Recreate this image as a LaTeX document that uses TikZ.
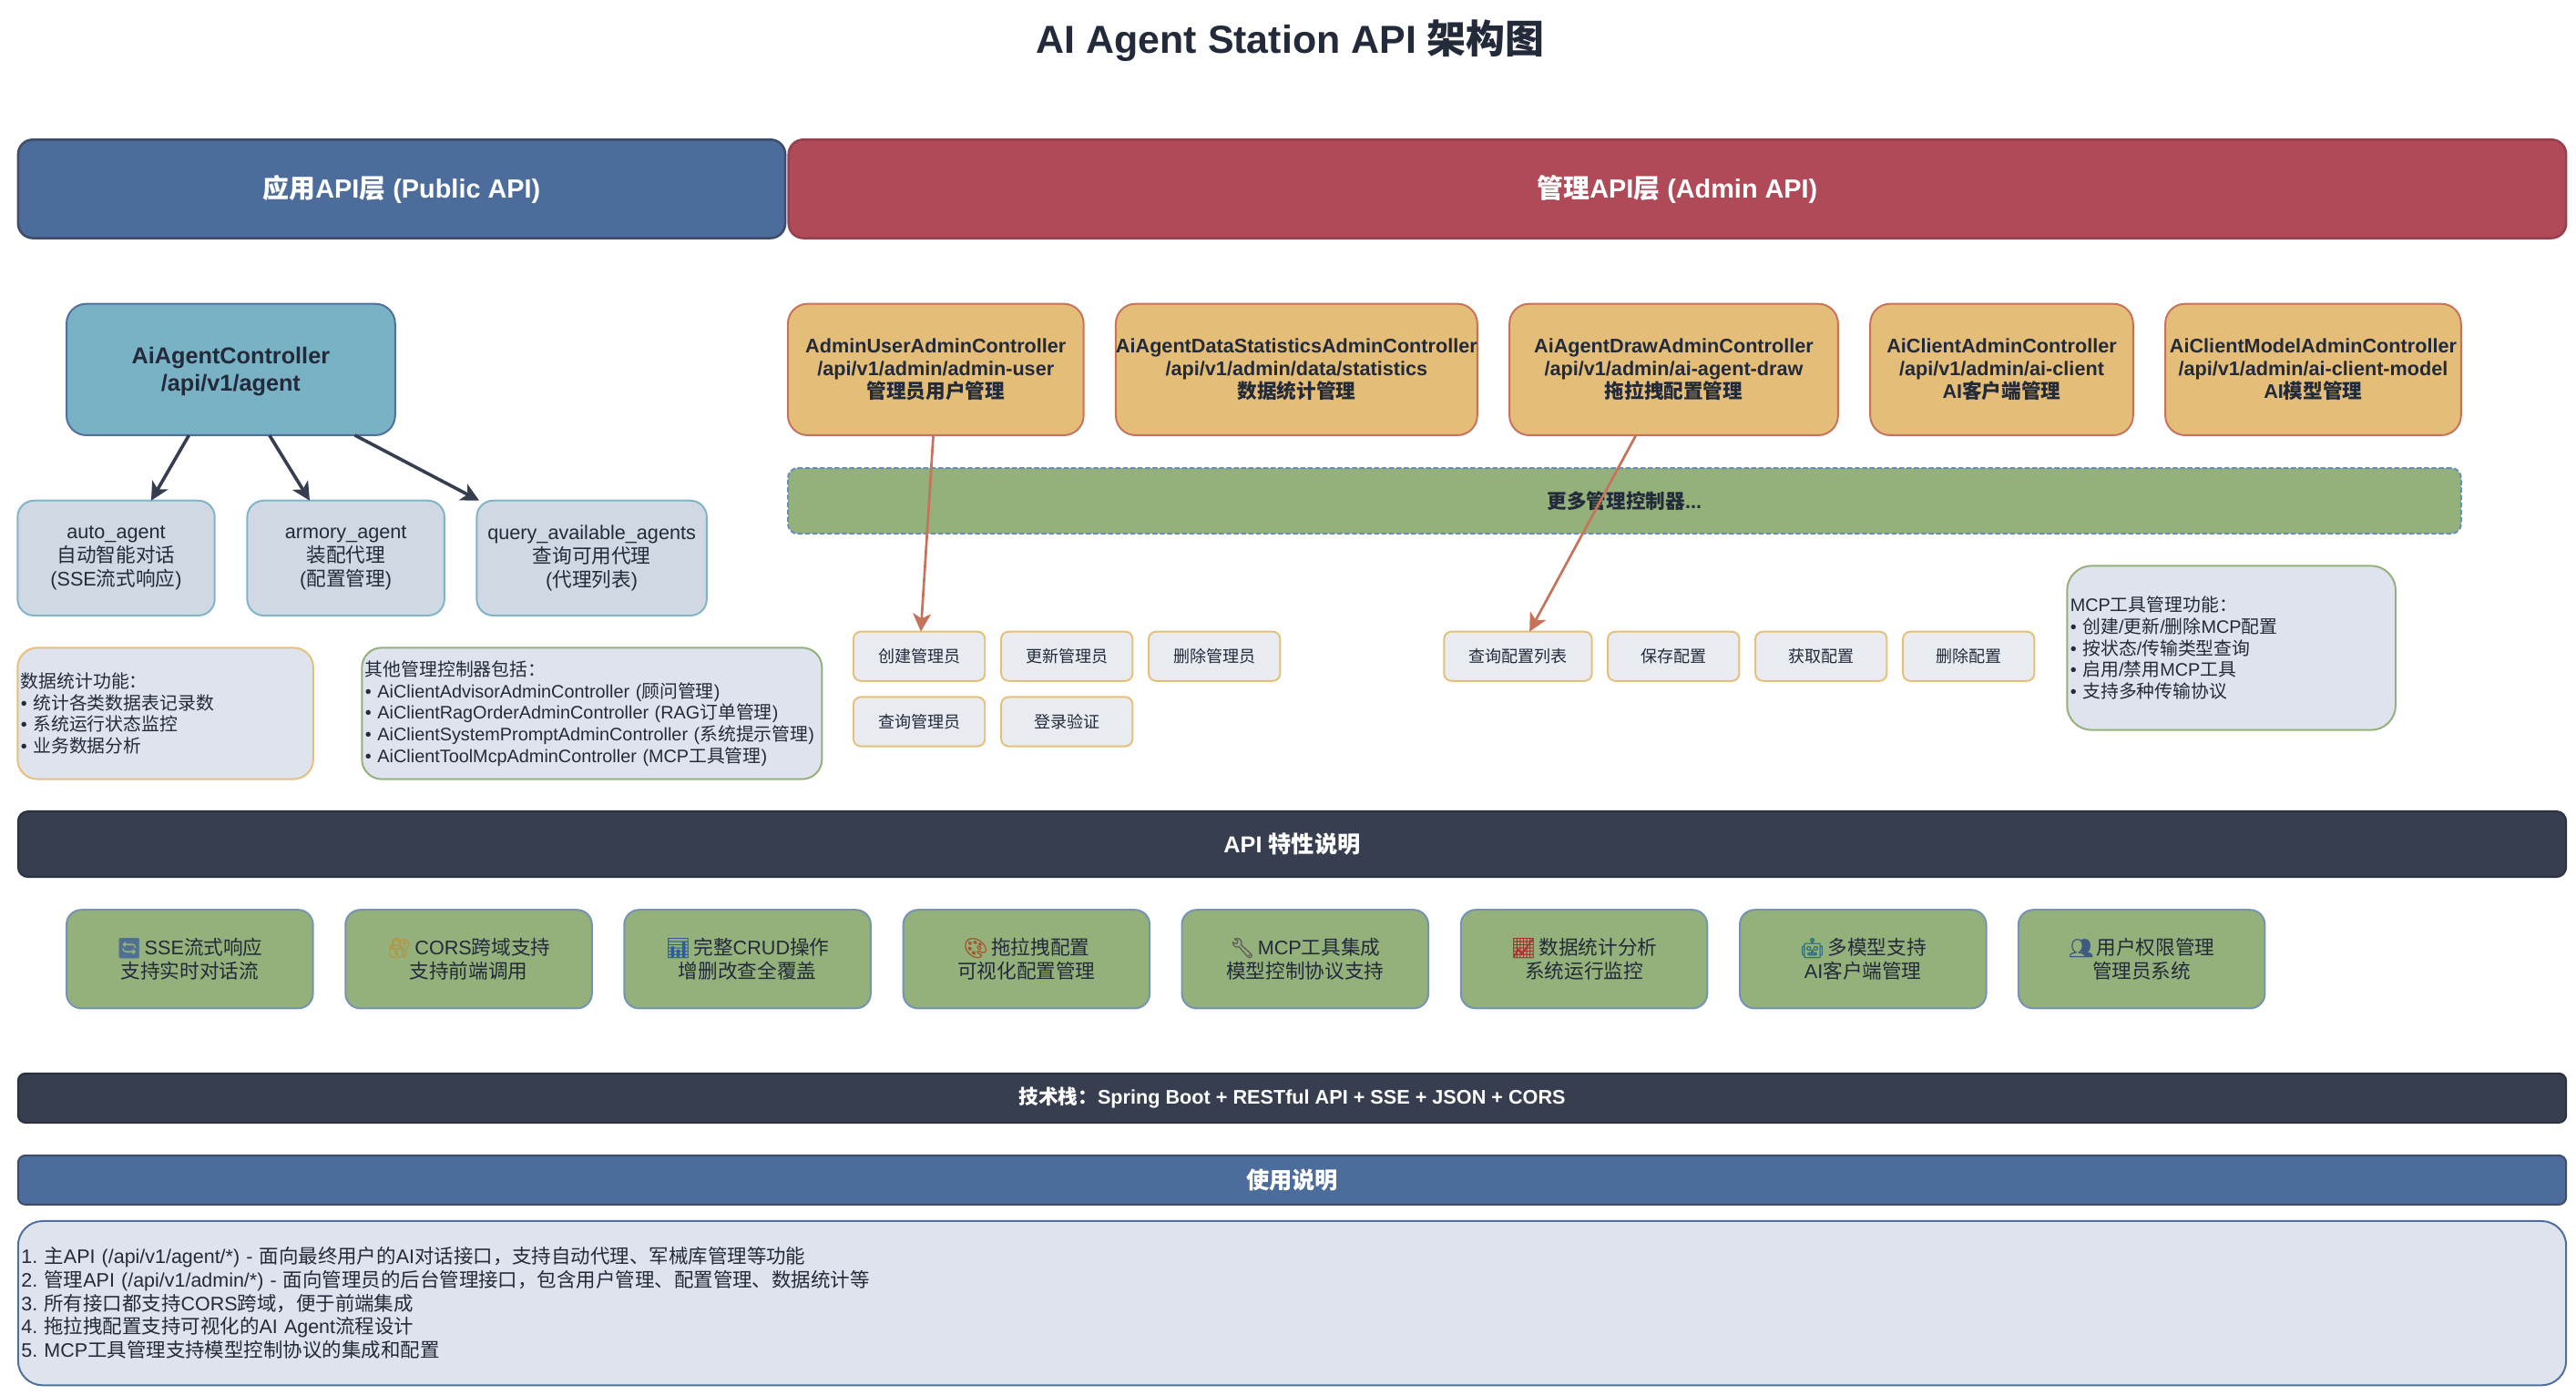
\documentclass[tikz,border=0pt]{standalone}
\usepackage{fontspec}
\usetikzlibrary{arrows.meta}
\setmainfont{Liberation Sans}
\newfontfamily\cjkf{Noto Sans CJK SC}
\newfontfamily\emojif[FakeBold=1.2]{Noto Emoji}
\newcount\cjkcnt
\cjkcnt="3000 \loop \XeTeXcharclass\cjkcnt=1 \advance\cjkcnt by 1 \ifnum\cjkcnt<"3040 \repeat
\cjkcnt="4E00 \loop \XeTeXcharclass\cjkcnt=1 \advance\cjkcnt by 1 \ifnum\cjkcnt<"A000 \repeat
\cjkcnt="FF00 \loop \XeTeXcharclass\cjkcnt=1 \advance\cjkcnt by 1 \ifnum\cjkcnt<"FF60 \repeat
\XeTeXinterchartokenstate=1
\XeTeXinterchartoks 0 1 = {\cjkf}
\XeTeXinterchartoks 4095 1 = {\cjkf}
\XeTeXinterchartoks 1 0 = {\rmfamily}
\XeTeXinterchartoks 1 4095 = {\rmfamily}
\frenchspacing
\definecolor{txtdark}{HTML}{232A3A}
\definecolor{pubfill}{HTML}{4C6C9B}
\definecolor{publine}{HTML}{3F4C69}
\definecolor{admfill}{HTML}{B04A59}
\definecolor{admline}{HTML}{96404E}
\definecolor{ctlfill}{HTML}{79B1C5}
\definecolor{ctlline}{HTML}{4F709F}
\definecolor{fnfill}{HTML}{D0D8E4}
\definecolor{fnline}{HTML}{7FB5C8}
\definecolor{yelfill}{HTML}{E4BD78}
\definecolor{redline}{HTML}{C7735C}
\definecolor{grnfill}{HTML}{94B07B}
\definecolor{dashline}{HTML}{6A8BBF}
\definecolor{actfill}{HTML}{E8ECF1}
\definecolor{yelline}{HTML}{E6C079}
\definecolor{infofill}{HTML}{DFE3ED}
\definecolor{barfill}{HTML}{373E50}
\definecolor{barline}{HTML}{2B3140}
\definecolor{featline}{HTML}{7593B5}
\tikzset{
  shared/.style={draw, rectangle, outer sep=0pt, inner sep=0pt, line width=1.1pt, align=center, text=txtdark},
  header/.style={shared, rounded corners=9pt, text=white, line width=1.4pt, text height=14pt, text depth=3pt, font=\frenchspacing\bfseries\fontsize{16}{19}\selectfont},
  pubhead/.style={header, fill=pubfill, draw=publine},
  admhead/.style={header, fill=admfill, draw=admline},
  agentctl/.style={shared, rounded corners=12pt, fill=ctlfill, draw=ctlline, font=\bfseries\fontsize{14}{17}\selectfont},
  fnbox/.style={shared, rounded corners=10pt, fill=fnfill, draw=fnline, font=\fontsize{12}{14.3}\selectfont},
  admctl/.style={shared, rounded corners=12pt, fill=yelfill, draw=redline, font=\bfseries\fontsize{12}{14}\selectfont},
  morebox/.style={shared, rounded corners=6pt, fill=grnfill, draw=dashline, dashed, dash pattern=on 3pt off 1.5pt, font=\bfseries\fontsize{12}{14}\selectfont},
  actbox/.style={shared, rounded corners=4.5pt, fill=actfill, draw=yelline, font=\fontsize{10}{12}\selectfont},
  infobox/.style={shared, fill=infofill, align=left, inner xsep=2pt, font=\frenchspacing\fontsize{11}{13.2}\selectfont},
  darkbar/.style={shared, fill=barfill, draw=barline, text=white, rounded corners=6pt, font=\bfseries\fontsize{14}{17}\selectfont},
  featbox/.style={shared, rounded corners=9pt, fill=grnfill, draw=featline, font=\fontsize{12}{14.5}\selectfont},
  linkdark/.style={draw=barfill, line width=2pt, -{Stealth[length=11pt,width=11pt,inset=3pt]}},
  linkred/.style={draw=redline, line width=1.5pt, -{Stealth[length=11pt,width=11pt,inset=3pt]}},
  titletext/.style={inner sep=0pt, text=txtdark, font=\bfseries\fontsize{23.8}{28}\selectfont}
}
\newcommand{\Bx}[7]{\node[#1, minimum width=#5pt, minimum height=#6pt] (#2) at ({#3+#5/2},{#4+#6/2}) {#7};}
\newcommand{\Emo}[2]{{\color[HTML]{#1}\emojif #2}\hspace{1.8pt}}
\begin{document}
\begin{tikzpicture}[x=1pt,y=-1pt]
\useasboundingbox (0,0) rectangle (1568,849.4);
\node[titletext] (title) at (785.5,25) {AI Agent Station API 架构图};
\Bx{pubhead}{pub}{11}{85}{467}{60}{应用API层 (Public API)}
\Bx{admhead}{adm}{480}{85}{1082}{60}{管理API层 (Admin API)}
\Bx{agentctl}{ctrl}{40.5}{185}{200}{80}{\rule{0pt}{12.5pt}AiAgentController\\/api/v1/agent}
\Bx{fnbox}{auto}{10.7}{304.8}{120}{70}{auto\_agent\\自动智能对话\\(SSE流式响应)}
\Bx{fnbox}{armory}{150.5}{304.8}{120}{70}{armory\_agent\\装配代理\\(配置管理)}
\Bx{fnbox}{query}{290.2}{304.8}{140}{70}{query\_available\_agents\\查询可用代理\\(代理列表)}
\Bx{admctl}{cuser}{479.6}{185}{180}{80}{AdminUserAdminController\\/api/v1/admin/admin-user\\管理员用户管理}
\Bx{admctl}{cstat}{679.2}{185}{220}{80}{AiAgentDataStatisticsAdminController\\/api/v1/admin/data/statistics\\数据统计管理}
\Bx{admctl}{cdraw}{918.8}{185}{200}{80}{AiAgentDrawAdminController\\/api/v1/admin/ai-agent-draw\\拖拉拽配置管理}
\Bx{admctl}{cclient}{1138.4}{185}{160}{80}{AiClientAdminController\\/api/v1/admin/ai-client\\AI客户端管理}
\Bx{admctl}{cmodel}{1318}{185}{180}{80}{AiClientModelAdminController\\/api/v1/admin/ai-client-model\\AI模型管理}
\Bx{morebox}{more}{479.6}{285}{1018.4}{40}{更多管理控制器...}
\Bx{actbox}{ucreate}{519.5}{384.6}{80}{30}{创建管理员}
\Bx{actbox}{uupdate}{609.4}{384.6}{80}{30}{更新管理员}
\Bx{actbox}{udelete}{699.2}{384.6}{80}{30}{删除管理员}
\Bx{actbox}{uquery}{519.5}{424.4}{80}{30}{查询管理员}
\Bx{actbox}{ulogin}{609.4}{424.4}{80}{30}{登录验证}
\Bx{actbox}{dlist}{879}{384.6}{90}{30}{查询配置列表}
\Bx{actbox}{dsave}{978.7}{384.6}{80}{30}{保存配置}
\Bx{actbox}{dget}{1068.5}{384.6}{80}{30}{获取配置}
\Bx{actbox}{ddel}{1158.3}{384.6}{80}{30}{删除配置}
\Bx{infobox, rounded corners=15pt, draw=grnfill, text width=196pt}{mcp}{1258.2}{344.5}{200}{100}{MCP工具管理功能：\\• 创建/更新/删除MCP配置\\• 按状态/传输类型查询\\• 启用/禁用MCP工具\\• 支持多种传输协议}
\Bx{infobox, rounded corners=12pt, draw=yelline, text width=176pt}{stat}{10.7}{394.4}{180}{80}{数据统计功能：\\• 统计各类数据表记录数\\• 系统运行状态监控\\• 业务数据分析}
\Bx{infobox, rounded corners=12pt, draw=grnfill, text width=276pt}{other}{220.3}{394.4}{280}{80}{其他管理控制器包括：\\• AiClientAdvisorAdminController (顾问管理)\\• AiClientRagOrderAdminController (RAG订单管理)\\• AiClientSystemPromptAdminController (系统提示管理)\\• AiClientToolMcpAdminController (MCP工具管理)}
\Bx{darkbar}{feat}{11}{494}{1551}{40}{API 特性说明}
\Bx{featbox}{f1}{40.5}{554}{150}{60}{\Emo{4F6F94}{🔄}SSE流式响应\\支持实时对话流}
\Bx{featbox}{f2}{210.3}{554}{150}{60}{\Emo{B8953F}{🔐}CORS跨域支持\\支持前端调用}
\Bx{featbox}{f3}{380}{554}{150}{60}{\Emo{2A5DA8}{📊}完整CRUD操作\\增删改查全覆盖}
\Bx{featbox}{f4}{549.8}{554}{150}{60}{\Emo{A8552D}{🎨}拖拉拽配置\\可视化配置管理}
\Bx{featbox}{f5}{719.4}{554}{150}{60}{\Emo{5A5A5A}{🔧}MCP工具集成\\模型控制协议支持}
\Bx{featbox}{f6}{889.2}{554}{150}{60}{\Emo{B02A30}{📈}数据统计分析\\系统运行监控}
\Bx{featbox}{f7}{1059}{554}{150}{60}{\Emo{2D6F7D}{🤖}多模型支持\\AI客户端管理}
\Bx{featbox}{f8}{1228.6}{554}{150}{60}{\Emo{3D5A80}{👥}用户权限管理\\管理员系统}
\Bx{darkbar, rounded corners=4.5pt, font=\bfseries\fontsize{12}{14}\selectfont}{tech}{11}{653.6}{1551}{30}{技术栈：Spring Boot + RESTful API + SSE + JSON + CORS}
\Bx{darkbar, rounded corners=4.5pt, fill=pubfill, draw=publine}{usebar}{11}{703.5}{1551}{30}{使用说明}
\Bx{infobox, rounded corners=15pt, draw=ctlline, text width=1547pt, font=\frenchspacing\fontsize{11.9}{14.25}\selectfont}{usage}{11}{743.5}{1551}{100}{1. 主API (/api/v1/agent/*) - 面向最终用户的AI对话接口，支持自动代理、军械库管理等功能\\2. 管理API (/api/v1/admin/*) - 面向管理员的后台管理接口，包含用户管理、配置管理、数据统计等\\3. 所有接口都支持CORS跨域，便于前端集成\\4. 拖拉拽配置支持可视化的AI Agent流程设计\\5. MCP工具管理支持模型控制协议的集成和配置}
\draw[linkdark] ([xshift=-25.5pt]ctrl.south) -- ([xshift=21.3pt]auto.north);
\draw[linkdark] ([xshift=23.5pt]ctrl.south) -- ([xshift=-22pt]armory.north);
\draw[linkdark] ([xshift=75.5pt]ctrl.south) -- ([xshift=-68.5pt]query.north);
\draw[linkred] ([xshift=-1.5pt]cuser.south) -- ([xshift=1pt]ucreate.north);
\draw[linkred] ([xshift=-23pt]cdraw.south) -- ([xshift=7pt]dlist.north);
\end{tikzpicture}
\end{document}
